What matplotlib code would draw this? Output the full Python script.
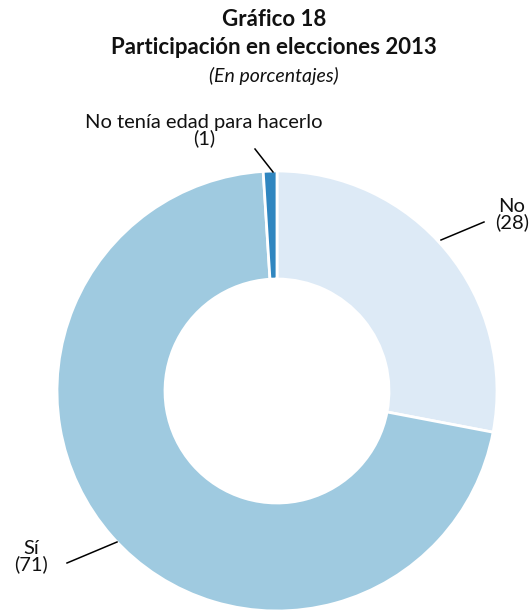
import matplotlib
matplotlib.use("Agg")
import matplotlib.pyplot as plt

categories = ["No", "Sí", "No tenía edad para hacerlo"]
values = [28, 71, 1]
colors = ["#ddeaf6", "#9fcae0", "#2f86c0"]

plt.rcParams['font.family'] = ['Lato', 'DejaVu Sans']

fig = plt.figure(figsize=(5.3, 6.1), dpi=100)
ax = fig.add_axes([0, 0, 1, 1])
ax.set_xlim(0, 530)
ax.set_ylim(0, 610)
ax.set_aspect('equal')
ax.axis('off')

cx, cy, R = 277, 610 - 391, 220
ax.pie(values, colors=colors, startangle=90, counterclock=False,
       center=(cx, cy), radius=R,
       wedgeprops=dict(width=108, edgecolor='white', linewidth=2))
ax.set_xlim(0, 530)
ax.set_ylim(0, 610)

def Y(y):
    return 610 - y

# Titles
tx = 274 / 530
fig.text(tx, 1 - 19 / 610, "Gráfico 18", ha='center', va='center',
         fontsize=16, fontweight='bold', color='#111111')
fig.text(tx, 1 - 48 / 610, "Participación en elecciones 2013", ha='center', va='center',
         fontsize=16, fontweight='bold', color='#111111')
fig.text(tx, 1 - 76 / 610, "(En porcentajes)", ha='center', va='center',
         fontsize=14, style='italic', color='#111111')

# Labels
labels = [f"{c}\n({v})" for c, v in zip(categories, values)]
fs = 14.5
ls = 0.88
ax.text(512, Y(215), labels[0], ha='center', va='center', fontsize=fs, linespacing=ls, color='#111111')
ax.plot([441, 484], [Y(240), Y(222)], color='black', lw=1.1)

ax.text(31, Y(557), labels[1], ha='center', va='center', fontsize=fs, linespacing=ls, color='#111111')
ax.plot([67, 117], [Y(563), Y(542)], color='black', lw=1.1)

ax.text(204, Y(131), labels[2], ha='center', va='center', fontsize=fs, linespacing=ls, color='#111111')
ax.plot([255, 273], [Y(149), Y(172)], color='black', lw=1.1)

fig.savefig("out.png", dpi=100)
